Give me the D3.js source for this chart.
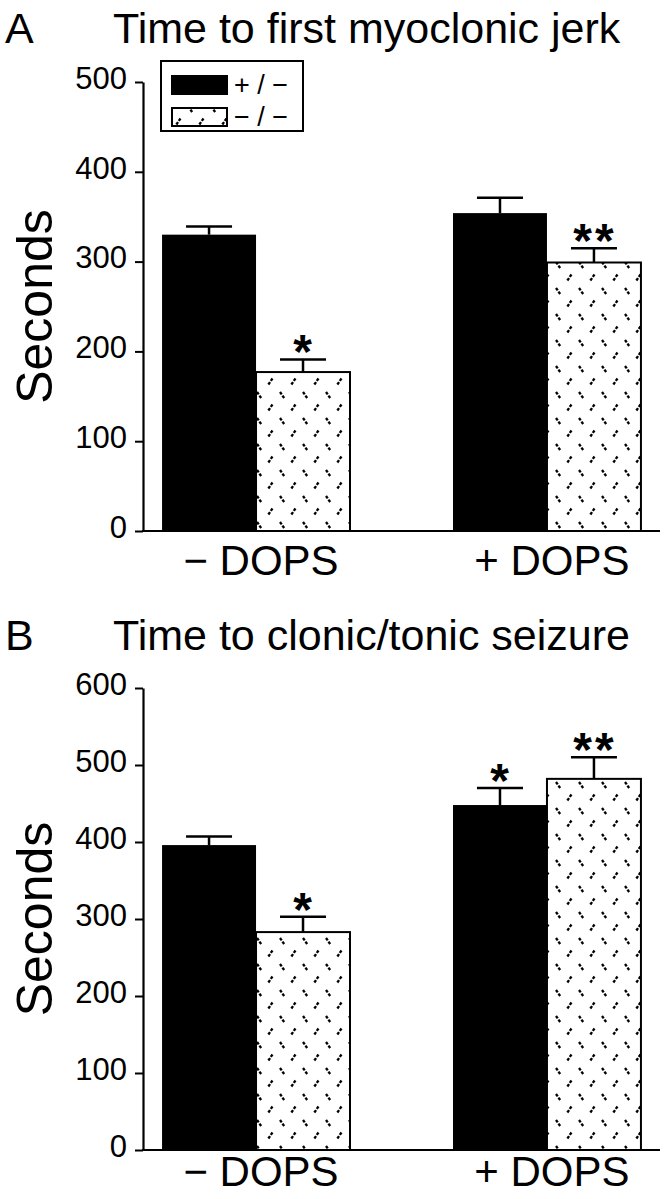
<!DOCTYPE html>
<html><head><meta charset="utf-8">
<script src="https://cdn.jsdelivr.net/npm/d3@7"></script>
<style>body{margin:0;background:#fff}svg{display:block}text{font-family:"Liberation Sans",Arial,Helvetica,sans-serif;fill:#000}</style>
</head><body>
<script>
// ---- data ----
const groups = ["− DOPS", "+ DOPS"];
const seriesNames = ["+ / −", "− / −"];
// Panel A: Time to first myoclonic jerk
const aHet = [330, 354];
const aHetErr = [9, 17];
const aKo = [177, 299];
const aKoErr = [14, 16];
const aHetSig = ["", ""];
const aKoSig = ["*", "**"];
const aTicks = [0, 100, 200, 300, 400, 500];
// Panel B: Time to clonic/tonic seizure
const bHet = [396, 448];
const bHetErr = [11, 22];
const bKo = [283, 482];
const bKoErr = [20, 28];
const bHetSig = ["", "*"];
const bKoSig = ["*", "**"];
const bTicks = [0, 100, 200, 300, 400, 500, 600];

const W = 668, H = 1199;
const svg = d3.select("body").append("svg").attr("width", W).attr("height", H);

// pattern
const defs = svg.append("defs");
const pat = defs.append("pattern").attr("id", "dash").attr("patternUnits", "userSpaceOnUse")
  .attr("width", 23).attr("height", 26);
pat.append("rect").attr("width", 23).attr("height", 26).attr("fill", "#fff");
pat.append("line").attr("x1", 4).attr("y1", 2).attr("x2", 8.5).attr("y2", 8.5)
  .attr("stroke", "#000").attr("stroke-width", 2.3).attr("stroke-dasharray", "3,1.3");
pat.append("line").attr("x1", 19.5).attr("y1", 14.5).attr("x2", 15).attr("y2", 21)
  .attr("stroke", "#000").attr("stroke-width", 2.3).attr("stroke-dasharray", "3,1.3");

function panel(opts) {
  const {letter, title, titleY, het, hetErr, ko, koErr, hetSig, koSig, ticks, y0, y1, xLabelY, legend} = opts;
  const x0 = 143, xEnd = 660;
  const y = d3.scaleLinear().domain([0, d3.max(ticks)]).range([y0, y1]);
  const xg = d3.scaleBand().domain(groups).range([x0, xEnd]).paddingInner(0.354).paddingOuter(0.0655);
  const xs = d3.scaleBand().domain([0, 1]).range([0, xg.bandwidth()]);
  const g = svg.append("g");

  g.append("text").attr("x", 5).attr("y", titleY).attr("font-size", 43).text(letter);
  g.append("text").attr("x", 113).attr("y", titleY).attr("font-size", 43).text(title);

  // y axis
  const ax = g.append("g").attr("transform", `translate(${x0},0)`)
    .call(d3.axisLeft(y).tickValues(ticks).tickSize(8).tickPadding(8).tickSizeOuter(0));
  ax.select(".domain").attr("stroke-width", 2.2);
  ax.selectAll(".tick line").attr("stroke-width", 2);
  ax.selectAll(".tick text").attr("font-size", 31).attr("font-family", '"Liberation Sans",Arial,sans-serif').attr("dy", "0.2em");

  g.append("text").attr("transform", `translate(52,${(y0 + y1) / 2}) rotate(-90)`)
    .attr("text-anchor", "middle").attr("font-size", 50).text("Seconds");

  const series = [
    {vals: het, err: hetErr, sig: hetSig, fill: "#000"},
    {vals: ko, err: koErr, sig: koSig, fill: "url(#dash)"}
  ];
  series.forEach((s, si) => {
    groups.forEach((grp, gi) => {
      const bx = xg(grp) + xs(si), bw = xs.bandwidth();
      const top = y(s.vals[gi]), et = y(s.vals[gi] + s.err[gi]);
      const cx = bx + bw / 2;
      g.append("line").attr("x1", cx).attr("x2", cx).attr("y1", top).attr("y2", et)
        .attr("stroke", "#000").attr("stroke-width", 2.5);
      g.append("line").attr("x1", cx - 23).attr("x2", cx + 23).attr("y1", et).attr("y2", et)
        .attr("stroke", "#000").attr("stroke-width", 2.5);
      g.append("rect").attr("x", bx).attr("y", top).attr("width", bw).attr("height", y0 - top)
        .attr("fill", s.fill).attr("stroke", "#000").attr("stroke-width", si ? 2 : 0);
      if (s.sig[gi]) {
        g.append("text").attr("x", cx + 1).attr("y", et + 9).attr("text-anchor", "middle")
          .attr("font-size", 48).attr("font-weight", "bold").attr("letter-spacing", 3).text(s.sig[gi]);
      }
    });
  });

  // x axis
  g.append("line").attr("x1", x0 - 1).attr("x2", xEnd).attr("y1", y0).attr("y2", y0)
    .attr("stroke", "#000").attr("stroke-width", 2.2);
  groups.forEach(grp => {
    g.append("text").attr("x", xg(grp) + xg.bandwidth() / 2 + 5).attr("y", xLabelY)
      .attr("text-anchor", "middle").attr("font-size", 42).text(grp);
  });

  if (legend) {
    const lg = g.append("g");
    lg.append("rect").attr("x", 161).attr("y", 61).attr("width", 142).attr("height", 70)
      .attr("fill", "#fff").attr("stroke", "#000").attr("stroke-width", 2);
    seriesNames.forEach((nm, i) => {
      const sy = 76 + i * 32;
      lg.append("rect").attr("x", 172).attr("y", sy).attr("width", 55).attr("height", 18)
        .attr("fill", i ? "url(#dash)" : "#000").attr("stroke", "#000").attr("stroke-width", 2);
      lg.append("text").attr("x", 234).attr("y", sy + 18).attr("font-size", 27).text(nm);
    });
  }
}

panel({letter: "A", title: "Time to first myoclonic jerk", titleY: 43,
  het: aHet, hetErr: aHetErr, ko: aKo, koErr: aKoErr, hetSig: aHetSig, koSig: aKoSig,
  ticks: aTicks, y0: 531, y1: 82, xLabelY: 575, legend: true});
panel({letter: "B", title: "Time to clonic/tonic seizure", titleY: 650,
  het: bHet, hetErr: bHetErr, ko: bKo, koErr: bKoErr, hetSig: bHetSig, koSig: bKoSig,
  ticks: bTicks, y0: 1150, y1: 688, xLabelY: 1186, legend: false});
</script>
</body></html>
